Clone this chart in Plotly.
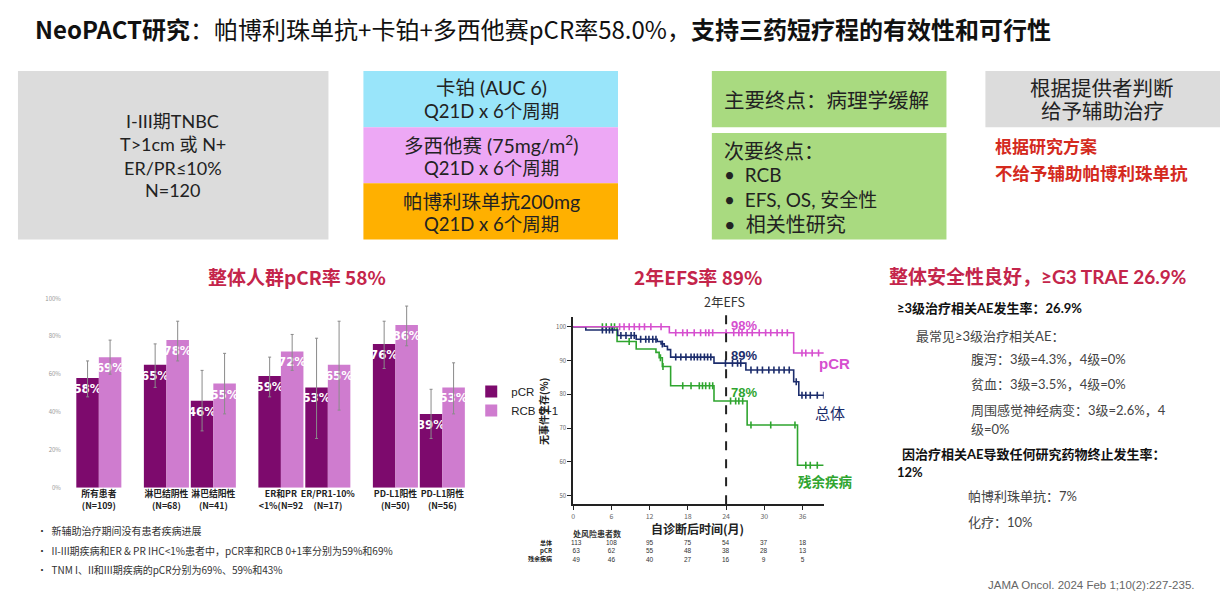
import numpy as np
import plotly.graph_objects as go

W, H = 1228, 598


def px(x):
    return x / W


def py(y):
    return 1 - y / H


CJK = "Noto Sans CJK SC"
LATO = "Lato, Noto Sans CJK SC"
NARROW = "Liberation Sans Narrow, DejaVu Sans Condensed, Roboto Condensed, Arial"

# ---------------- bar chart data ----------------
subgroups = ["所有患者<br>(N=109)", "淋巴结阴性<br>(N=68)", "淋巴结阳性<br>(N=41)",
             "ER和PR<br>&lt;1%(N=92", "ER/PR1-10%<br>(N=17)", "PD-L1阳性<br>(N=50)",
             "PD-L1阴性<br>(N=56)"]
subgroup_family = [0, 1, 1, 2, 2, 3, 3]
pcr_rate = [58, 65, 46, 59, 53, 76, 39]
pcr_lo = [48, 53, 30, 48, 26, 63, 26]
pcr_hi = [67, 76, 62, 69, 79, 88, 52]
rcb_rate = [69, 78, 55, 72, 65, 86, 53]
rcb_lo = [60, 67, 39, 62, 41, 75, 39]
rcb_hi = [78, 88, 71, 81, 88, 96, 66]
bar_ticks = [0, 20, 40, 60, 80, 100]

# ---------------- KM data ----------------
pcr_t = [0, 15.1, 34.6, 39.6]
pcr_s = [100, 98.2, 92.2, 92.2]
pcr_cens = [7.3, 8.0, 8.8, 9.6, 10.4, 11.2, 12.2, 13.8, 16.1, 17.2, 17.9, 19.0, 20.0, 20.8,
            21.3, 21.9, 24.0, 25.2, 26.0, 26.5, 27.3, 28.1, 29.2, 30.2, 31.0, 32.0, 32.8,
            33.6, 35.9, 36.5, 37.5, 38.5, 39.5]

all_t = [0, 2.0, 7.0, 9.9, 13.2, 13.8, 14.3, 14.8, 15.3, 22.1, 27.1, 34.6, 35.4, 39.5]
all_s = [100, 99.0, 97.4, 96.3, 95.6, 94.9, 94.2, 93.2, 91.0, 89.2, 87.2, 83.7, 79.7, 79.7]
all_cens = [4.6, 5.2, 5.7, 6.2, 7.5, 8.3, 9.1, 9.6, 10.6, 11.4, 11.9, 12.5, 13.0, 14.0,
            16.1, 16.9, 17.7, 18.5, 19.0, 19.5, 20.0, 20.6, 21.1, 21.6, 23.9, 25.0, 25.8,
            26.3, 27.9, 28.9, 29.7, 30.7, 31.5, 32.3, 33.1, 33.9, 35.0, 35.9, 36.5, 37.2,
            38.3, 39.3]

rd_t = [0, 6.9, 9.9, 13.0, 13.5, 14.0, 15.3, 22.1, 27.3, 35.2, 39.3]
rd_s = [100, 95.6, 93.4, 92.4, 90.8, 88.2, 82.5, 78.0, 70.9, 59.0, 59.0]
rd_cens = [4.6, 5.2, 6.0, 6.5, 8.8, 13.7, 14.1, 17.2, 18.5, 19.8, 20.3, 20.8, 21.4, 21.9,
           24.7, 25.5, 26.0, 26.6, 27.9, 31.0, 34.8, 36.5, 37.2, 38.3]

efs_month = 24
efs_labels = ["98%", "89%", "78%"]
efs_label_y = [100.3, 91.4, 80.4]

risk_months = [0, 6, 12, 18, 24, 30, 36]
risk_rows = ["总体", "pCR", "残余疾病"]
risk_all = [113, 108, 95, 75, 54, 37, 18]
risk_pcr = [63, 62, 55, 48, 38, 28, 13]
risk_rd = [49, 46, 40, 27, 16, 9, 5]

C_DARK = "#7d0a6d"
C_LIGHT = "#cf7ccf"
C_PCR = "#d64fcf"
C_ALL = "#1c2d6c"
C_RD = "#2fa52f"
CRIMSON = "#c4254b"

fig = go.Figure()

# ---------------- bars ----------------
pos = [i + 0.44 * g for i, g in enumerate(subgroup_family)]
for name, vals, lo, hi, col in [("pCR", pcr_rate, pcr_lo, pcr_hi, C_DARK),
                                ("RCB 0+1", rcb_rate, rcb_lo, rcb_hi, C_LIGHT)]:
    fig.add_trace(go.Bar(
        x=pos, y=vals, name=name, marker=dict(color=col, line=dict(width=0)),
        text=[f"<b>{v}%</b>" for v in vals], textposition="inside",
        insidetextanchor="end", textangle=0,
        textfont=dict(color="white", size=13, family=NARROW),
        error_y=dict(type="data", symmetric=False,
                     array=[h - v for h, v in zip(hi, vals)],
                     arrayminus=[v - l for v, l in zip(vals, lo)],
                     color="#8a8a8a", thickness=1, width=1.5),
        xaxis="x", yaxis="y", cliponaxis=False))


# ---------------- KM ----------------
def step_at(ts, ss, t):
    idx = np.searchsorted(np.array(ts), np.array(t), side="right") - 1
    return list(np.array(ss)[idx])


for ts, ss, cens, col in [(rd_t, rd_s, rd_cens, C_RD), (all_t, all_s, all_cens, C_ALL),
                          (pcr_t, pcr_s, pcr_cens, C_PCR)]:
    fig.add_trace(go.Scatter(x=ts, y=ss, mode="lines", line=dict(color=col, width=1.6, shape="hv"),
                             showlegend=False, xaxis="x2", yaxis="y2", hoverinfo="skip"))
    fig.add_trace(go.Scatter(x=cens, y=step_at(ts, ss, cens), mode="markers",
                             marker=dict(symbol="line-ns", size=5, color=col,
                                         line=dict(color=col, width=1.6)),
                             showlegend=False, xaxis="x2", yaxis="y2", hoverinfo="skip"))

fig.update_layout(
    width=W, height=H, margin=dict(l=0, r=0, t=0, b=0),
    paper_bgcolor="white", plot_bgcolor="rgba(0,0,0,0)",
    barmode="group", bargap=0.04, bargroupgap=0,
    uniformtext=dict(minsize=13, mode="show"),
    font=dict(family=CJK, color="#222"),
    xaxis=dict(domain=[px(60), px(470)], range=[-0.787, 7.936], showgrid=False, zeroline=False,
               showline=False, tickvals=pos, ticktext=subgroups, ticks="", tickangle=0,
               tickfont=dict(size=8.8, color="#222", family=CJK, weight="bold")),
    yaxis=dict(domain=[py(490), py(298)], range=[0, 100], showgrid=False, zeroline=False,
               showline=False, tickvals=bar_ticks, ticktext=[f"{v}%" for v in bar_ticks],
               tickfont=dict(size=6, color="#999"), ticks=""),
    xaxis2=dict(domain=[px(572), px(823)], range=[0, 39.3], anchor="y2", showgrid=False,
                zeroline=False, showline=True, linecolor="#222", linewidth=1.5, tickangle=0,
                tickvals=risk_months, ticks="outside", ticklen=4, tickcolor="#222",
                tickfont=dict(size=7, color="#666")),
    yaxis2=dict(domain=[py(507), py(317)], range=[47.4, 102.8], anchor="x2", showgrid=False,
                zeroline=False, showline=True, linecolor="#222", linewidth=1.5,
                tickvals=[50, 60, 70, 80, 90, 100], ticks="outside", ticklen=4, tickcolor="#222",
                tickfont=dict(size=6, color="#666")),
    legend=dict(x=px(470), y=py(402), xanchor="left", yanchor="middle",
                bgcolor="rgba(0,0,0,0)", font=dict(size=11.5, color="#222", family="Liberation Sans"),
                tracegroupgap=0, itemwidth=30),
)

shapes = []


def box(x0, y0, x1, y1, col):
    shapes.append(dict(type="rect", xref="paper", yref="paper", x0=px(x0), x1=px(x1),
                       y0=py(y1), y1=py(y0), fillcolor=col, line=dict(width=0), layer="below"))


box(16, 67, 327, 238, "#dcdcdc")
box(362, 67, 617, 124, "#99e5fa")
box(362, 124, 617, 181, "#eda8f5")
box(362, 181, 617, 238, "#ffb000")
box(711, 67, 946, 124, "#a9da80")
box(711, 130, 946, 238, "#a9da80")
box(985, 67, 1220, 124, "#dcdcdc")
shapes.append(dict(type="line", xref="x2", yref="paper", x0=efs_month, x1=efs_month,
                   y0=py(507), y1=py(314), line=dict(color="#222", width=2, dash="dash")))
fig.update_layout(shapes=shapes)

ann = []


def txt(x, y, s, size=12, color="#222", xanchor="left", family=CJK, align="left", **kw):
    ann.append(dict(x=px(x), y=py(y), xref="paper", yref="paper", text=s, showarrow=False,
                    xanchor=xanchor, yanchor="middle", align=align,
                    font=dict(size=size, color=color, family=family), **kw))


# title
txt(31, 24, "<b>NeoPACT研究</b>：帕博利珠单抗+卡铂+多西他赛pCR率58.0%，<b>支持三药短疗程的有效性和可行性</b>",
    size=24, color="#111")

# boxes
for yy, s, sz in [(118, "I-III期TNBC", 18), (141, "T&gt;1cm 或 N+", 18),
                  (165, "ER/PR≤10%", 18), (188, "N=120", 18)]:
    txt(171, yy, s, size=sz, xanchor="center", family=LATO)
for yy, s, sz in [(84, "卡铂 (AUC 6)", 19.5), (108, "Q21D x 6个周期", 18.5),
                  (142, "多西他赛 (75mg/m<sup>2</sup>)", 19.5), (165, "Q21D x 6个周期", 18.5),
                  (199, "帕博利珠单抗200mg", 19.5), (222, "Q21D x 6个周期", 18.5)]:
    txt(490, yy, s, size=sz, xanchor="center", family=LATO)
txt(721, 96, "主要终点：病理学缓解", size=20.5, family=LATO)
txt(721, 148, "次要终点：", size=20, family=LATO)
txt(721, 172, "•  RCB", size=19, family=LATO)
txt(721, 197, "•  EFS, OS, 安全性", size=19, family=LATO)
txt(721, 222, "•  相关性研究", size=20, family=LATO)
txt(1102, 84, "根据提供者判断", size=20.5, xanchor="center", family=LATO)
txt(1102, 108, "给予辅助治疗", size=20.5, xanchor="center", family=LATO)
txt(993, 143, "<b>根据研究方案</b>", size=17, color="#d42a1e")
txt(993, 170, "<b>不给予辅助帕博利珠单抗</b>", size=17.5, color="#d42a1e")

# section titles
txt(295, 276, "<b>整体人群pCR率 58%</b>", size=19, color=CRIMSON, xanchor="center")
txt(697, 276, "<b>2年EFS率 89%</b>", size=19, color=CRIMSON, xanchor="center")
txt(886, 276, "<b>整体安全性良好，≥G3 TRAE 26.9%</b>", size=19, color=CRIMSON,
    family="Lato, Noto Sans CJK SC")

# footnotes
notes = ["新辅助治疗期间没有患者疾病进展",
         "II-III期疾病和ER &amp; PR IHC&lt;1%患者中，pCR率和RCB 0+1率分别为59%和69%",
         "TNM I、II和III期疾病的pCR分别为69%、59%和43%"]
for i, n in enumerate(notes):
    txt(33, 534 + 19.5 * i, "•  " + n, size=10, color="#333")

# KM annotations
txt(724, 301, "2年EFS", size=12.5, color="#333", xanchor="center")
for lab, yv, col in zip(efs_labels, efs_label_y, [C_PCR, C_ALL, C_RD]):
    ann.append(dict(x=efs_month + 0.4, y=yv, xref="x2", yref="y2", text=f"<b>{lab}</b>",
                    showarrow=False, xanchor="left", yanchor="middle",
                    font=dict(size=13, color=col, family="Liberation Sans")))
txt(834, 364, "<b>pCR</b>", size=15, color=C_PCR, xanchor="center", family="Liberation Sans")
txt(829, 414, "总体", size=15, color=C_ALL, xanchor="center")
txt(825, 483, "<b>残余疾病</b>", size=13.5, color=C_RD, xanchor="center")
txt(697, 532, "<b>自诊断后时间(月)</b>", size=12, color="#222", xanchor="center")
txt(543, 413, "<b>无事件生存(%)</b>", size=10, color="#222", xanchor="center", textangle=-90)
txt(570, 537, "<b>处风险患者数</b>", size=8, color="#333")
# risk table: one multi-line text per column
txt(553, 554, "<b>" + "<br>".join(risk_rows) + "</b>", size=6, color="#222", xanchor="right",
    align="right")
for m, a, p, r in zip(risk_months, risk_all, risk_pcr, risk_rd):
    ann.append(dict(x=m + 0.6 if m == 0 else m, y=py(554), xref="x2", yref="paper",
                    text=f"{a}<br>{p}<br>{r}", showarrow=False, xanchor="center",
                    yanchor="middle", align="center",
                    font=dict(size=6.5, color="#333", family="Liberation Sans")))

# safety block
txt(894, 308, "<b>≥3级治疗相关AE发生率：26.9%</b>", size=13, color="#111", family=LATO)
txt(913, 336, "最常见≥3级治疗相关AE：", size=13, color="#444", family=LATO)
txt(969, 359, "腹泻：3级=4.3%，4级=0%", size=13, color="#444", family=LATO)
txt(969, 385, "贫血：3级=3.5%，4级=0%", size=13, color="#444", family=LATO)
txt(969, 411, "周围感觉神经病变：3级=2.6%，4", size=13, color="#444", family=LATO)
txt(969, 430, "级=0%", size=13, color="#444", family=LATO)
txt(899, 456, "<b>因治疗相关AE导致任何研究药物终止发生率：</b>", size=13, color="#111", family=LATO)
txt(894, 474, "<b>12%</b>", size=13, color="#111", family=LATO)
txt(966, 499, "帕博利珠单抗：7%", size=13, color="#444", family=LATO)
txt(966, 525, "化疗：10%", size=13, color="#444", family=LATO)
txt(986, 589, "JAMA Oncol. 2024 Feb 1;10(2):227-235.", size=11.5, color="#666",
    family="Liberation Sans")

fig.update_layout(annotations=ann)
fig.write_html("out.html", config={"displayModeBar": False},
               post_script="document.body.style.margin='0px';document.body.style.overflow='hidden';")
